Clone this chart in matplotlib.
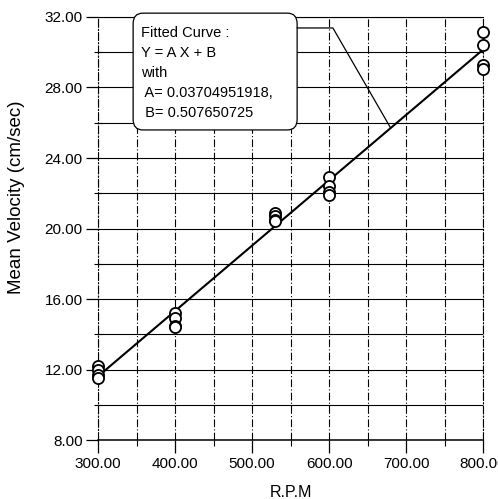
## Mean velocity vs R.P.M with linear fit
import numpy as np
import matplotlib.pyplot as plt
from matplotlib.ticker import MultipleLocator
from matplotlib.patches import FancyBboxPatch

## DATA
rpm = [300, 300, 300, 300,
       400, 400, 400, 400,
       530, 530, 530, 530,
       600, 600, 600, 600,
       800, 800, 800, 800]
velocity = [12.2, 12.0, 11.7, 11.5,
            15.2, 14.9, 14.5, 14.4,
            20.9, 20.7, 20.5, 20.4,
            22.9, 22.4, 22.1, 21.9,
            31.15, 30.4, 29.3, 29.05]
A = 0.03704951918
B = 0.507650725
fit_x = [300, 800]
box_text = 'Fitted Curve :\nY = A X + B\nwith\n A= 0.03704951918,\n B= 0.507650725'

plt.rcParams['font.family'] = ['Liberation Sans', 'DejaVu Sans']

fig = plt.figure(figsize=(4.98, 4.99), dpi=100)
ax = fig.add_axes([0.197, 0.118, 0.773, 0.848])

# grid: dash-dot verticals, solid horizontals
ax.set_xlim(300, 800)
ax.set_ylim(8, 32)
ax.xaxis.set_major_locator(MultipleLocator(100))
ax.xaxis.set_minor_locator(MultipleLocator(50))
ax.yaxis.set_major_locator(MultipleLocator(4))
ax.yaxis.set_minor_locator(MultipleLocator(2))
ax.grid(True, which='both', axis='x', color='black', lw=0.8, ls=(0, (7, 2, 1, 2)))
ax.grid(True, which='both', axis='y', color='black', lw=0.8, ls='-')
ax.set_axisbelow(True)

# fitted line
fx = np.array(fit_x)
ax.plot(fx, A * fx + B, color='black', lw=1.5, zorder=3)

# measured points
ax.plot(rpm, velocity, 'o', mfc='white', mec='black', mew=1.3, ms=8, clip_on=False, zorder=4)

# ticks
ax.yaxis.set_major_formatter(lambda v, p: '%.2f' % v)
ax.xaxis.set_major_formatter(lambda v, p: '%.2f' % v)
ax.tick_params(axis='y', which='major', direction='out', length=9, width=0.9, labelsize=11, pad=2)
ax.tick_params(axis='y', which='minor', direction='inout', length=6, width=0.8)
ax.tick_params(axis='x', which='major', direction='out', length=9, width=0.9, labelsize=11, pad=3)
ax.tick_params(axis='x', which='minor', direction='out', length=4, width=0.8)

for side in ['top', 'right', 'left', 'bottom']:
    ax.spines[side].set_linewidth(0.8)
ax.spines['bottom'].set_linewidth(1.1)
ax.spines['left'].set_linestyle((0, (7, 2, 1, 2)))
ax.spines['right'].set_linestyle((0, (7, 2, 1, 2)))

ax.set_xlabel('R.P.M', fontsize=11.5, labelpad=10)
ax.set_ylabel('Mean Velocity (cm/sec)', fontsize=13.5)
ax.yaxis.set_label_coords(-0.19, 0.574)

# fit annotation: rounded box, text, bent connector
box = FancyBboxPatch((0.091, 0.733), 0.426, 0.276, transform=ax.transAxes,
                     boxstyle='round,pad=0,rounding_size=0.025', fc='white', ec='black',
                     lw=0.9, zorder=5, clip_on=False)
ax.add_patch(box)
ax.text(0.112, 0.979, box_text, transform=ax.transAxes, ha='left', va='top',
        fontsize=10.5, linespacing=1.55, zorder=6)
tx = 680
ax.annotate('', xy=(tx, A * tx + B), xycoords='data',
            xytext=(0.517, 0.974), textcoords='axes fraction',
            arrowprops=dict(arrowstyle='-', color='black', lw=0.9, shrinkA=0, shrinkB=0,
                            connectionstyle='angle,angleA=0,angleB=120,rad=0'),
            zorder=5, annotation_clip=False)

plt.savefig('out.png', dpi=100)
